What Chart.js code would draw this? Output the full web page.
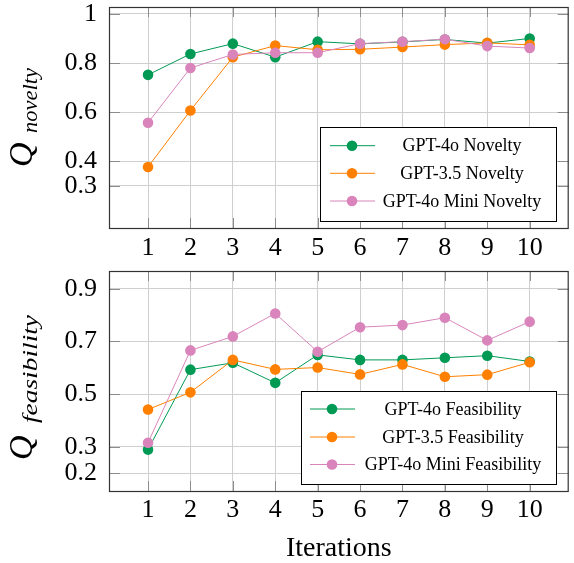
<!DOCTYPE html>
<html>
<head>
<meta charset="utf-8">
<script src="https://cdn.jsdelivr.net/npm/chart.js@4.4.0/dist/chart.umd.min.js"></script>
<style>
html, body { margin: 0; padding: 0; background: #fff; }
#wrap { position: relative; width: 574px; height: 563px; }
.box { position: absolute; left: 0; width: 574px; }
canvas { display: block; }
</style>
</head>
<body>
<div id="wrap">
  <div class="box" style="top:0;height:265px"><canvas id="c1" width="574" height="265"></canvas></div>
  <div class="box" style="top:263px;height:300px"><canvas id="c2" width="574" height="300"></canvas></div>
</div>
<script>
var iterations = [1, 2, 3, 4, 5, 6, 7, 8, 9, 10]

var novelty4o   = [0.752, 0.837, 0.879, 0.824, 0.887, 0.878, 0.886, 0.896, 0.881, 0.900]
var novelty35   = [0.377, 0.607, 0.824, 0.871, 0.854, 0.856, 0.865, 0.875, 0.882, 0.874]
var noveltyMini = [0.557, 0.780, 0.835, 0.842, 0.842, 0.879, 0.887, 0.897, 0.869, 0.861]

var feas4o   = [0.290, 0.593, 0.619, 0.543, 0.649, 0.630, 0.630, 0.638, 0.646, 0.624]
var feas35   = [0.442, 0.507, 0.630, 0.594, 0.601, 0.575, 0.613, 0.566, 0.574, 0.621]
var feasMini = [0.316, 0.666, 0.719, 0.806, 0.661, 0.754, 0.762, 0.790, 0.704, 0.775]

var noveltyTicks = [0.3, 0.4, 0.6, 0.8, 1]
var feasTicks = [0.2, 0.3, 0.5, 0.7, 0.9]

var noveltyLabels = ['GPT-4o Novelty', 'GPT-3.5 Novelty', 'GPT-4o Mini Novelty']
var feasLabels = ['GPT-4o Feasibility', 'GPT-3.5 Feasibility', 'GPT-4o Mini Feasibility']

var green = '#009a55'
var orange = '#ff8000'
var pink = '#d985bb'
var serif = "'Liberation Serif', 'Times New Roman', serif"

Chart.defaults.font.family = serif
Chart.defaults.color = '#000'

// frame round the plot area, with small inner tick marks like pgfplots
var framePlugin = {
  id: 'frame',
  beforeDatasetsDraw: function (chart) {
    var a = chart.chartArea, ctx = chart.ctx
    var xs = chart.scales.x, ys = chart.scales.y
    ctx.save()
    ctx.strokeStyle = '#8c8c8c'
    ctx.lineWidth = 1
    ctx.beginPath()
    xs.ticks.forEach(function (t) {
      var p = Math.round(xs.getPixelForValue(t.value)) + 0.5
      ctx.moveTo(p, a.bottom); ctx.lineTo(p, a.bottom - 10)
      ctx.moveTo(p, a.top); ctx.lineTo(p, a.top + 10)
    })
    ys.ticks.forEach(function (t) {
      var p = Math.round(ys.getPixelForValue(t.value)) + 0.5
      ctx.moveTo(a.left, p); ctx.lineTo(a.left + 11, p)
      ctx.moveTo(a.right, p); ctx.lineTo(a.right - 11, p)
    })
    ctx.stroke()
    ctx.restore()
  },
  afterDatasetsDraw: function (chart) {
    var a = chart.chartArea, ctx = chart.ctx
    ctx.save()
    ctx.strokeStyle = '#333'
    ctx.lineWidth = 1.2
    ctx.strokeRect(a.left + 0.5, a.top + 0.5, a.right - a.left - 1, a.bottom - a.top)
    ctx.restore()
  }
}

var boxLegend = {
  id: 'boxLegend',
  afterDatasetsDraw: function (chart, args, o) {
    var ctx = chart.ctx
    ctx.save()
    ctx.fillStyle = '#fff'
    ctx.fillRect(o.left, o.top, o.right - o.left, o.bottom - o.top)
    ctx.strokeStyle = '#000'
    ctx.lineWidth = 1
    ctx.strokeRect(o.left + 0.5, o.top + 0.5, o.right - o.left, o.bottom - o.top)
    ctx.font = '18px ' + serif
    ctx.textAlign = 'center'
    ctx.textBaseline = 'middle'
    chart.data.datasets.forEach(function (ds, i) {
      var y = o.rows[i]
      ctx.strokeStyle = ds.borderColor
      ctx.beginPath()
      ctx.moveTo(o.lineX0, y); ctx.lineTo(o.lineX1, y)
      ctx.stroke()
      ctx.fillStyle = ds.borderColor
      ctx.beginPath()
      ctx.arc(o.markX, y, 5.3, 0, Math.PI * 2)
      ctx.fill()
      ctx.fillStyle = '#000'
      ctx.fillText(ds.label, o.textX, y + 1)
    })
    ctx.restore()
  }
}

var yTitle = {
  id: 'yTitle',
  afterDraw: function (chart, args, o) {
    var ctx = chart.ctx
    ctx.save()
    ctx.translate(o.x, o.y)
    ctx.rotate(-Math.PI / 2)
    ctx.fillStyle = '#000'
    ctx.textAlign = 'left'
    ctx.textBaseline = 'alphabetic'
    ctx.font = 'italic 34px ' + serif
    ctx.fillText('Q', 0, 0)
    ctx.font = 'italic 22px ' + serif
    var w = ctx.measureText(o.sub).width
    ctx.translate(o.subStart, o.subDrop)
    ctx.scale(o.subWidth / w, 1)
    ctx.fillText(o.sub, 0, 0)
    ctx.restore()
  }
}

function makeChart(id, values, labels, yTicks, yMin, yMax, p) {
  var colors = [green, orange, pink]
  var datasets = values.map(function (vals, i) {
    return {
      label: labels[i],
      data: iterations.map(function (it, k) { return { x: it, y: vals[k] } }),
      borderColor: colors[i],
      backgroundColor: colors[i],
      pointBackgroundColor: colors[i],
      borderWidth: 1,
      pointRadius: 5.3,
      pointBorderWidth: 0,
      order: 2 - i
    }
  })
  return new Chart(document.getElementById(id), {
    type: 'line',
    data: { datasets: datasets },
    options: {
      responsive: false,
      animation: false,
      devicePixelRatio: 1,
      layout: { padding: { left: 0, right: 2, top: p.top, bottom: 0 } },
      scales: {
        x: {
          type: 'linear',
          min: 0.08,
          max: 10.92,
          afterBuildTicks: function (s) { s.ticks = iterations.map(function (v) { return { value: v } }) },
          afterFit: function (s) { s.height = p.xHeight; s.paddingLeft = 0; s.paddingRight = 0 },
          grid: { color: '#cfcfcf', lineWidth: 1, drawTicks: false },
          border: { display: false },
          ticks: { font: { size: 26 }, padding: p.xPad, maxRotation: 0, callback: function (v) { return String(v) } },
          title: p.xTitle
        },
        y: {
          min: yMin,
          max: yMax,
          afterBuildTicks: function (s) { s.ticks = yTicks.map(function (v) { return { value: v } }) },
          afterFit: function (s) { s.width = 109; s.paddingTop = 0; s.paddingBottom = 0 },
          grid: { color: '#cfcfcf', lineWidth: 1, drawTicks: false },
          border: { display: false },
          ticks: { font: { size: 26 }, padding: 12, callback: function (v) { return String(v) } }
        }
      },
      plugins: {
        legend: { display: false },
        tooltip: { enabled: false },
        boxLegend: p.legend,
        yTitle: p.yTitle
      }
    },
    plugins: [framePlugin, boxLegend, yTitle]
  })
}

makeChart('c1', [novelty4o, novelty35, noveltyMini], noveltyLabels, noveltyTicks, 0.129, 1.028, {
  top: 7,
  xHeight: 37,
  xPad: 5,
  xTitle: { display: false },
  legend: { left: 320, top: 127, right: 556, bottom: 221, rows: [145.7, 173.3, 201], lineX0: 330, lineX1: 375, markX: 352, textX: 462 },
  yTitle: { x: 32, y: 167, sub: 'novelty', subStart: 34, subDrop: 5, subWidth: 65 }
})

var off = 263
makeChart('c2', [feas4o, feas35, feasMini], feasLabels, feasTicks, 0.133, 0.967, {
  top: 8,
  xHeight: 72,
  xPad: 4,
  xTitle: { display: true, text: 'Iterations', font: { size: 28, lineHeight: 1 }, padding: { top: 0, bottom: 0 } },
  legend: { left: 301, top: 391 - off, right: 556, bottom: 484 - off, rows: [409 - off, 437 - off, 464.5 - off], lineX0: 310, lineX1: 355, markX: 332, textX: 453 },
  yTitle: { x: 32, y: 460 - off, sub: 'feasibility', subStart: 37, subDrop: 5, subWidth: 108 }
})
</script>
</body>
</html>
